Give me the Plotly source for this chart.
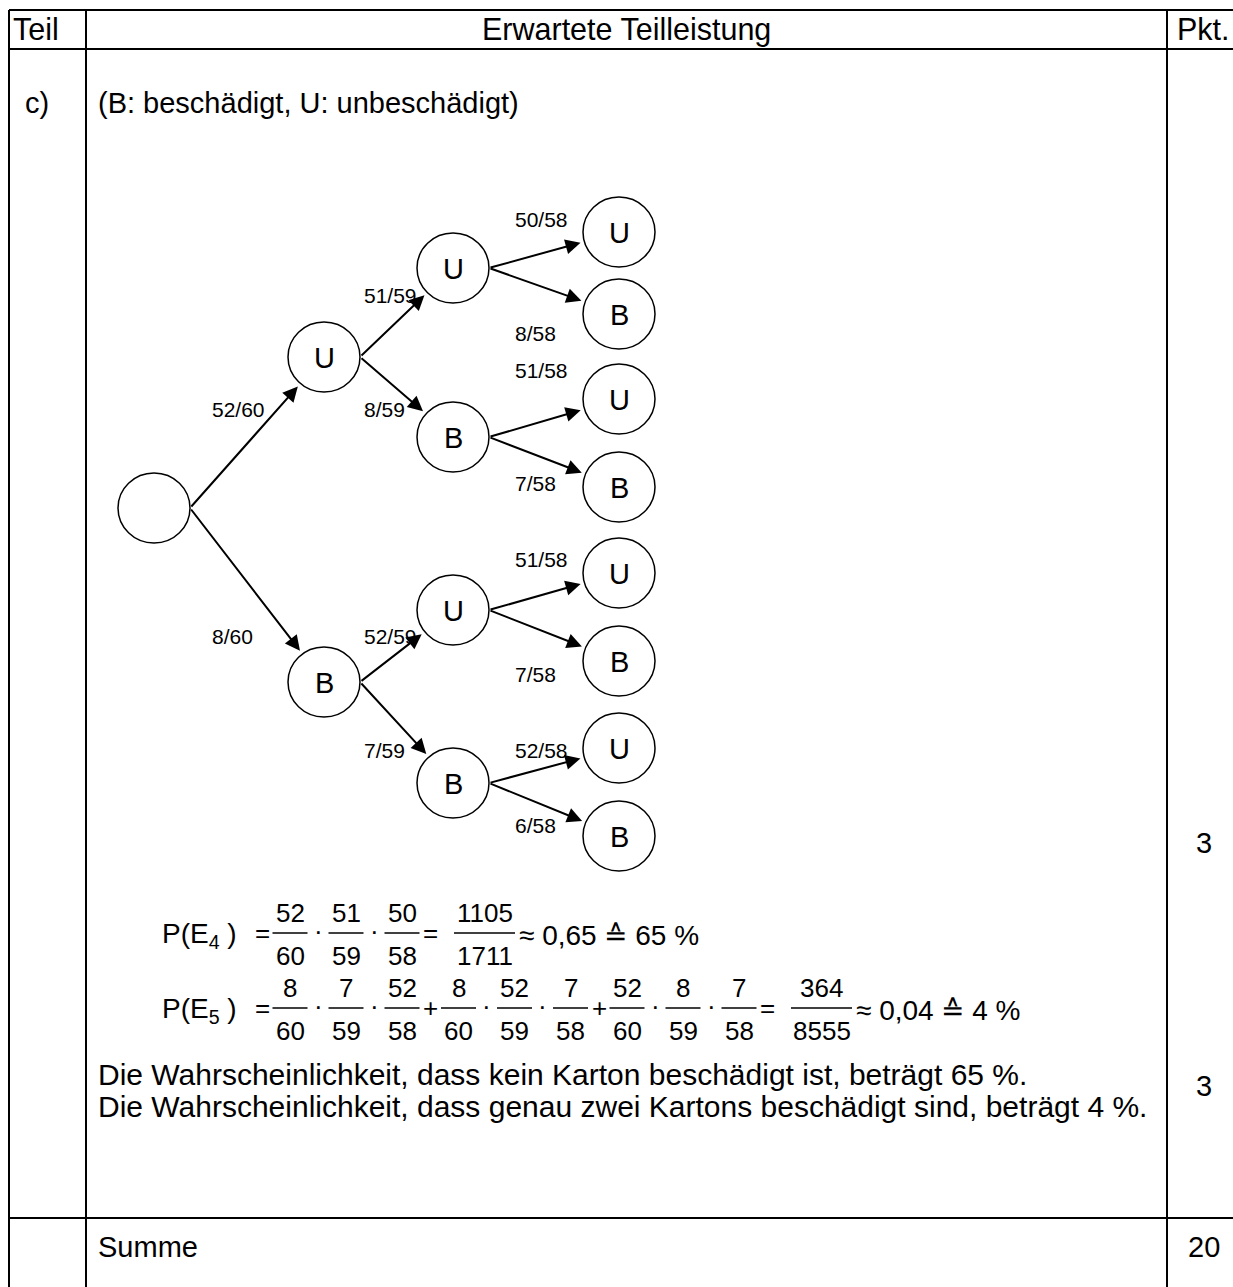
import math
import plotly.graph_objects as go

# ---------------- data ----------------
header_cells = ["Teil", "Erwartete Teilleistung", "Pkt."]
part_label = "c)"
key_text = "(B: beschädigt, U: unbeschädigt)"

level1_nodes = ["U", "B"]
level2_nodes = ["U", "B", "U", "B"]
level3_nodes = ["U", "B", "U", "B", "U", "B", "U", "B"]
level1_probs = ["52/60", "8/60"]
level2_probs = ["51/59", "8/59", "52/59", "7/59"]
level3_probs = ["50/58", "8/58", "51/58", "7/58", "51/58", "7/58", "52/58", "6/58"]

e4_lhs = "P(E<sub>4</sub>\u00a0)"
e4_num = [["52", "51", "50"]]
e4_den = [["60", "59", "58"]]
e4_result = ["1105", "1711"]
e4_tail = "≈ 0,65 ≙ 65 %"

e5_lhs = "P(E<sub>5</sub>\u00a0)"
e5_num = [["8", "7", "52"], ["8", "52", "7"], ["52", "8", "7"]]
e5_den = [["60", "59", "58"], ["60", "59", "58"], ["60", "59", "58"]]
e5_result = ["364", "8555"]
e5_tail = "≈ 0,04 ≙ 4 %"

conclusions = [
    "Die Wahrscheinlichkeit, dass kein Karton beschädigt ist, beträgt 65 %.",
    "Die Wahrscheinlichkeit, dass genau zwei Kartons beschädigt sind, beträgt 4 %.",
]
points = ["3", "3"]
sum_label = "Summe"
sum_points = "20"

# ---------------- layout (pixel space) ----------------
W, H = 1233, 1287
FONT = "Liberation Sans, Arial, Helvetica, sans-serif"
HDR = 30.5
TXT = 29
SENT = 30
LBL = 21
NODE = 29
FRM = 26
TAIL = 28

col_x = [9, 86, 1167, 1240]
row_y = [10, 49, 1218]

root = (154, 508)
lvl_x = [324, 453, 619]
lvl_y = [[357, 682], [268, 437, 610, 783], [232, 314, 399, 487, 573, 661, 748, 836]]
RX, RY = 36, 35
lbl_left = [211, 363, 514]
lbl_y = [[409, 636], [295, 409, 636, 750], [219, 333, 370, 483, 559, 674, 750, 825]]

fig = go.Figure()
shapes = []
ann = []


def text(x, y, s, size, anchor="left"):
    ann.append(dict(x=x, y=y, text=s, showarrow=False, xanchor=anchor, yanchor="middle",
                    font=dict(family=FONT, size=size, color="black"), borderpad=0))


def line(x0, y0, x1, y1, w=2):
    shapes.append(dict(type="line", x0=x0, y0=y0, x1=x1, y1=y1, xref="x", yref="y",
                       line=dict(color="black", width=w)))


# table grid
for yy in row_y:
    line(col_x[0], yy, W + 10, yy)
for xx in col_x:
    line(xx, row_y[0], xx, H + 10)

text(12, 29, header_cells[0], HDR)
text((col_x[1] + col_x[2]) / 2, 29, header_cells[1], HDR, "center")
text((col_x[2] + col_x[3]) / 2, 29, header_cells[2], HDR, "center")
text(24, 103, part_label, TXT)
text(97, 103, key_text, TXT)

# tree
nodes = [(root, "")]
levels = [level1_nodes, level2_nodes, level3_nodes]
probs = [level1_probs, level2_probs, level3_probs]
prev = [root]
for li, names in enumerate(levels):
    cur = []
    for i, nm in enumerate(names):
        c = (lvl_x[li], lvl_y[li][i])
        cur.append(c)
        nodes.append((c, nm))
        parent = prev[i // 2]
        tail = (parent[0] + RX, parent[1])
        dx, dy = c[0] - tail[0], c[1] - tail[1]
        t = 1 / math.sqrt((dx / RX) ** 2 + (dy / RY) ** 2)
        L = math.hypot(dx, dy)
        tipx = c[0] - dx * t - dx / L * 4
        tipy = c[1] - dy * t - dy / L * 4
        ann.append(dict(x=tipx, y=tipy, ax=tail[0], ay=tail[1], xref="x", yref="y",
                        axref="x", ayref="y", text="", showarrow=True, arrowhead=2,
                        arrowsize=1.5, arrowwidth=2, arrowcolor="black", standoff=0))
        text(lbl_left[li], lbl_y[li][i], probs[li][i], LBL)
    prev = cur

for (c, nm) in nodes:
    shapes.append(dict(type="circle", xref="x", yref="y", x0=c[0] - RX, x1=c[0] + RX,
                       y0=c[1] - RY, y1=c[1] + RY, line=dict(color="black", width=1.5),
                       fillcolor="white", layer="below"))
    if nm:
        text(c[0], c[1] + 1, nm, NODE, "center")


# formulas
def frac(cx, yc, num, den):
    bw = max(len(num), len(den)) * 13 + 9
    line(cx - bw / 2, yc, cx + bw / 2, yc, 1.3)
    text(cx, yc - 20, num, FRM, "center")
    text(cx, yc + 23, den, FRM, "center")


def formula(yc, lhs, nums, dens, res, tail, x_start):
    text(161, yc + 2, lhs, FRM + 2)
    text(262, yc, "=", FRM, "center")
    x = x_start
    for g, (ng, dg) in enumerate(zip(nums, dens)):
        if g > 0:
            text(x - 28, yc, "+", FRM, "center")
        for k, (n, d) in enumerate(zip(ng, dg)):
            if k > 0:
                text(x - 28, yc - 2, "·", FRM, "center")
            frac(x, yc, n, d)
            x += 56
        x += 0.5
    text(x - 28, yc, "=", FRM, "center")
    rc = x + 26
    frac(rc, yc, res[0], res[1])
    text(rc + 33, yc + 2, tail, TAIL)


formula(933, e4_lhs, e4_num, e4_den, e4_result, e4_tail, 290)
formula(1008, e5_lhs, e5_num, e5_den, e5_result, e5_tail, 290)

text(97, 1074, conclusions[0], SENT)
text(97, 1106, conclusions[1], SENT)
text((col_x[2] + col_x[3]) / 2, 843, points[0], TXT, "center")
text((col_x[2] + col_x[3]) / 2, 1086, points[1], TXT, "center")
text(97, 1247, sum_label, TXT)
text((col_x[2] + col_x[3]) / 2, 1247, sum_points, TXT, "center")

fig.update_layout(
    width=W, height=H, margin=dict(l=0, r=0, t=0, b=0),
    paper_bgcolor="white", plot_bgcolor="white", showlegend=False,
    shapes=shapes, annotations=ann,
    xaxis=dict(range=[0, W], visible=False, fixedrange=True),
    yaxis=dict(range=[H, 0], visible=False, fixedrange=True),
)
fig.write_html("out.html", config={"displayModeBar": False},
               post_script="document.body.style.margin='0';document.body.style.overflow='hidden';")
